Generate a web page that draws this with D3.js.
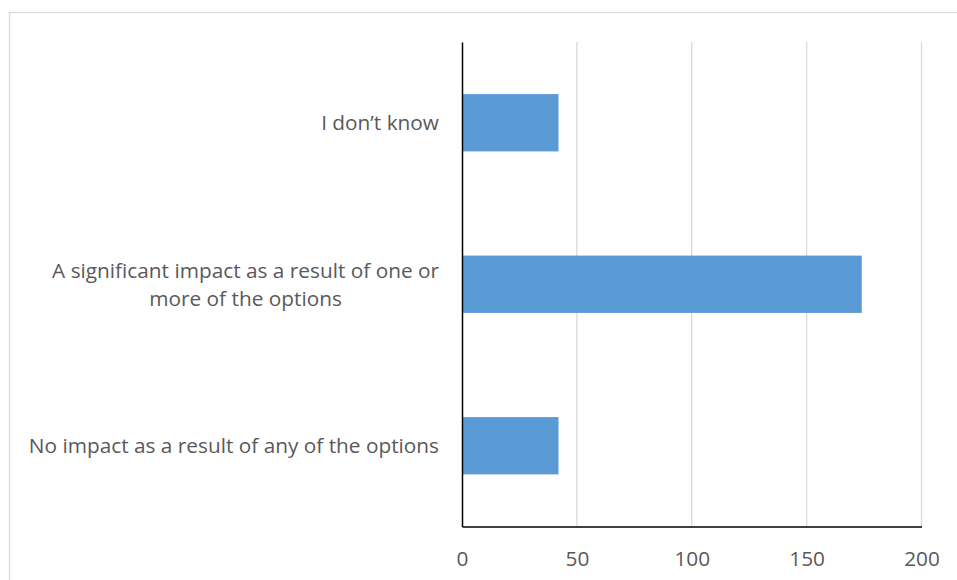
<!DOCTYPE html>
<html>
<head>
<meta charset="utf-8">
<script src="https://cdn.jsdelivr.net/npm/d3@7"></script>
<style>
  html, body { margin: 0; padding: 0; background: #fff; }
  svg { display: block; }
</style>
</head>
<body>
<svg id="chart" width="957" height="580"></svg>
<script>
const categories = [
  ["I don\u2019t know"],
  ["A significant impact as a result of one or", "more of the options"],
  ["No impact as a result of any of the options"]
];
const values = [42, 174, 42];
const xTicks = [0, 50, 100, 150, 200];

const W = 957, H = 580;
const margin = { left: 462, right: 957 - 921.5, top: 42, bottom: 580 - 526.5 };
const svg = d3.select("#chart");
const fontFamily = "'Open Sans', 'Noto Sans', sans-serif";
const fontSize = 20.8;
const textColor = "#595959";

// outer chart border
svg.append("rect")
  .attr("x", 9.5).attr("y", 12.5)
  .attr("width", W).attr("height", H)
  .attr("fill", "none").attr("stroke", "#d9d9d9").attr("stroke-width", 1.3);

const x = d3.scaleLinear().domain([0, 200]).range([margin.left, W - margin.right]);
const y = d3.scaleBand().domain(d3.range(categories.length))
  .range([margin.top, H - margin.bottom])
  .paddingInner(0.645).paddingOuter(0.3225);

// gridlines
svg.append("g").selectAll("line")
  .data(xTicks.filter(t => t > 0))
  .join("line")
  .attr("x1", d => x(d)).attr("x2", d => x(d))
  .attr("y1", margin.top).attr("y2", H - margin.bottom)
  .attr("stroke", "#d9d9d9").attr("stroke-width", 1.3);

// bars
svg.append("g").selectAll("rect")
  .data(values)
  .join("rect")
  .attr("x", x(0))
  .attr("y", (d, i) => y(i))
  .attr("width", d => x(d) - x(0))
  .attr("height", y.bandwidth())
  .attr("fill", "#5b9bd5");

// x axis
const xAxis = d3.axisBottom(x).tickValues(xTicks).tickSize(0).tickPadding(0);
const gx = svg.append("g").attr("transform", `translate(0,${H - margin.bottom})`).call(xAxis);
gx.select(".domain").attr("stroke", "#000").attr("stroke-width", 1.5);
gx.selectAll("text")
  .attr("y", 32).attr("dy", "0.35em")
  .attr("fill", textColor)
  .style("font-family", fontFamily).style("font-size", fontSize + "px");

// y axis line
const yAxis = d3.axisLeft(y).tickSize(0).tickFormat(() => "");
const gy = svg.append("g").attr("transform", `translate(${x(0)},0)`).call(yAxis);
gy.select(".domain").attr("stroke", "#000").attr("stroke-width", 1.5);

// category labels
const lineH = 28;
const labelRight = 439;
const lg = svg.append("g")
  .style("font-family", fontFamily).style("font-size", fontSize + "px").attr("fill", textColor);
categories.forEach((lines, i) => {
  const cy = y(i) + y.bandwidth() / 2;
  const t = lg.append("text");
  lines.forEach((ln, j) => {
    t.append("tspan").text(ln)
      .attr("dy", "0.35em")
      .attr("y", cy + (j - (lines.length - 1) / 2) * lineH);
  });
  const widths = [];
  t.selectAll("tspan").each(function () { widths.push(this.getComputedTextLength()); });
  const maxW = d3.max(widths);
  const center = labelRight - maxW / 2;
  t.attr("text-anchor", "middle");
  t.selectAll("tspan").attr("x", center);
});
</script>
</body>
</html>
